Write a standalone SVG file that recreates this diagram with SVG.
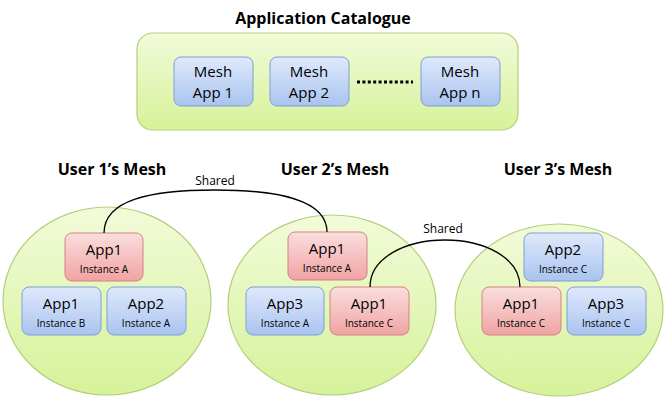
<svg xmlns="http://www.w3.org/2000/svg" width="670" height="402" viewBox="0 0 670 402">
<defs>
<linearGradient id="gg" x1="0" y1="0" x2="0" y2="1"><stop offset="0" stop-color="#f2fbd9"/><stop offset="1" stop-color="#d6f29a"/></linearGradient>
<linearGradient id="bg" x1="0" y1="0" x2="0" y2="1"><stop offset="0" stop-color="#dfe9fb"/><stop offset="1" stop-color="#a9c4f0"/></linearGradient>
<linearGradient id="rg" x1="0" y1="0" x2="0" y2="1"><stop offset="0" stop-color="#fbdede"/><stop offset="1" stop-color="#f0a3a3"/></linearGradient>
</defs>
<style>
.g{fill:url(#gg);stroke:#b3cf7a;stroke-width:1.2}
.b{fill:url(#bg);stroke:#7f9fd2;stroke-width:1}
.r{fill:url(#rg);stroke:#d48282;stroke-width:1}
text{font-family:"Open Sans","Liberation Sans",sans-serif;fill:#000;text-anchor:middle}
.t{font-weight:bold;font-size:16px}
.m{font-size:15px}
.s{font-size:10px}
.c{fill:none;stroke:#000;stroke-width:1.3}
</style>
<text class="t" x="323" y="24">Application Catalogue</text>
<g id="catalogue">
<rect class="g" x="137" y="33" width="381" height="97" rx="16"/>
<g id="mesh1"><rect class="b" x="174" y="57" width="79" height="49" rx="7"/><text class="m" x="213" y="77">Mesh</text><text class="m" x="213" y="98">App 1</text></g>
<g id="mesh2"><rect class="b" x="270" y="57" width="79" height="49" rx="7"/><text class="m" x="309" y="77">Mesh</text><text class="m" x="309" y="98">App 2</text></g>
<line x1="357" y1="82" x2="413" y2="82" stroke="#000" stroke-width="3" stroke-dasharray="3,2.4"/>
<g id="meshn"><rect class="b" x="421" y="57" width="79" height="49" rx="7"/><text class="m" x="460" y="77">Mesh</text><text class="m" x="460" y="98">App n</text></g>
</g>
<g id="user1">
<text class="t" x="112" y="175">User 1’s Mesh</text>
<ellipse class="g" cx="107" cy="301" rx="104" ry="94"/>
<g id="u1a"><rect class="r" x="65" y="233" width="78" height="48" rx="7"/><text class="m" x="104" y="255">App1</text><text class="s" x="104" y="273">Instance A</text></g>
<g id="u1b"><rect class="b" x="22" y="287" width="79" height="48" rx="7"/><text class="m" x="61" y="309">App1</text><text class="s" x="61" y="327">Instance B</text></g>
<g id="u1c"><rect class="b" x="107" y="287" width="79" height="48" rx="7"/><text class="m" x="146" y="309">App2</text><text class="s" x="146" y="327">Instance A</text></g>
</g>
<g id="user2">
<text class="t" x="335" y="175">User 2’s Mesh</text>
<ellipse class="g" cx="332" cy="305" rx="104" ry="90"/>
<g id="u2a"><rect class="r" x="288" y="232" width="79" height="48" rx="7"/><text class="m" x="327" y="254">App1</text><text class="s" x="327" y="272">Instance A</text></g>
<g id="u2b"><rect class="b" x="246" y="287" width="78" height="48" rx="7"/><text class="m" x="285" y="309">App3</text><text class="s" x="285" y="327">Instance A</text></g>
<g id="u2c"><rect class="r" x="330" y="287" width="79" height="48" rx="7"/><text class="m" x="369" y="309">App1</text><text class="s" x="369" y="327">Instance C</text></g>
</g>
<g id="user3">
<text class="t" x="558" y="175">User 3’s Mesh</text>
<ellipse class="g" cx="559" cy="310" rx="104" ry="86"/>
<g id="u3a"><rect class="b" x="524" y="233" width="79" height="48" rx="7"/><text class="m" x="563" y="255">App2</text><text class="s" x="563" y="273">Instance C</text></g>
<g id="u3b"><rect class="r" x="482" y="287" width="79" height="48" rx="7"/><text class="m" x="521" y="309">App1</text><text class="s" x="521" y="327">Instance C</text></g>
<g id="u3c"><rect class="b" x="567" y="287" width="79" height="48" rx="7"/><text class="m" x="606" y="309">App3</text><text class="s" x="606" y="327">Instance C</text></g>
</g>
<g id="connectors">
<path class="c" d="M104 233 C104 200 150 190 215 190 C280 190 327 200 327 232"/>
<text class="s" x="215" y="185" style="font-size:12px">Shared</text>
<path class="c" d="M370 287 C370 258 405 240 445 240 C485 240 520 258 520 287"/>
<text class="s" x="443" y="233" style="font-size:12px">Shared</text>
</g>
</svg>
